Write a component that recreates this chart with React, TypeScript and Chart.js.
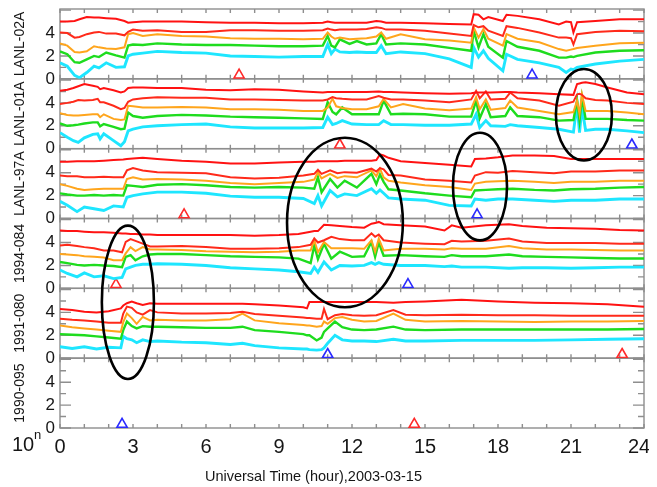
import { useEffect, useRef } from "react";
import { Chart, registerables } from "chart.js";

Chart.register(...registerables);

const FONT = "'Liberation Sans', Arial, Helvetica, sans-serif";

// ---------- labels / ticks ----------
const PANEL_LABELS = ["LANL-02A", "LANL-01A", "LANL-97A", "1994-084", "1991-080", "1990-095"];
const PANEL_IDS = ["y1", "y2", "y3", "y4", "y5", "y6"];
const X_TICKS = [0, 3, 6, 9, 12, 15, 18, 21, 24];
const X_MINOR_TICKS = [0, 1, 2, 3, 4, 5, 6, 7, 8, 9, 10, 11, 12, 13, 14, 15, 16, 17, 18, 19, 20, 21, 22, 23, 24];
const Y_TICKS = [0, 2, 4];
const Y_MINOR_TICKS = [0, 1, 2, 3, 4, 5, 6];
const Y_MAX = 6.1;
const X_TITLE = "Universal Time (hour),2003-03-15";
const EXP_BASE = "10";
const EXP_SUP = "n";

// series order: red (high), red (low), orange, green, cyan
const SERIES_COLORS = ["#ff1212", "#ff2a1a", "#ffa51c", "#1edc1e", "#1ee6ff"];
const SERIES_WIDTHS = [2.0, 2.0, 2.0, 2.4, 2.9];

// ---------- panel 1: LANL-02A ----------
const P1_TIME = [0, 0.3, 0.6, 0.8, 1.1, 1.4, 1.6, 1.9, 2.3, 2.65, 2.8, 3.0, 3.4, 4.0, 5.0, 6.0, 7.0, 8.0, 9.0, 10.0, 10.8, 11.0, 11.15, 11.3, 11.5, 11.9, 12.2, 12.6, 13.0, 13.2, 13.4, 14.0, 15.0, 16.0, 16.9, 17.0, 17.2, 17.4, 17.6, 18.2, 18.35, 18.8, 19.7, 20.5, 20.8, 21.0, 21.1, 21.25, 22.0, 23.0, 24.0];
const P1_RED_HI = [5.0, 5.0, 5.05, 5.2, 5.4, 5.35, 5.35, 5.3, 5.25, 5.05, 4.9, 4.95, 5.0, 5.0, 5.0, 4.95, 4.9, 4.9, 4.85, 4.85, 4.9, 5.0, 4.95, 4.9, 4.9, 4.9, 4.9, 4.9, 5.05, 5.0, 4.9, 4.9, 4.85, 4.8, 4.75, 5.65, 5.6, 5.2, 5.4, 5.05, 5.6, 5.5, 5.2, 4.75, 5.0, 4.95, 4.05, 4.95, 5.05, 5.2, 5.2];
const P1_RED_LO = [4.05, 4.0, 3.6, 3.65, 3.9, 4.05, 4.1, 3.95, 3.95, 3.8, 4.1, 4.3, 4.2, 4.25, 4.1, 4.1, 4.25, 4.25, 4.2, 4.2, 4.25, 4.4, 4.3, 4.25, 4.3, 4.3, 4.3, 4.35, 4.5, 4.45, 4.3, 4.3, 4.2, 3.95, 3.75, 4.7, 4.5, 4.6, 4.2, 3.75, 4.6, 4.45, 4.05, 3.6, 3.6, 3.55, 3.0, 3.9, 4.1, 4.2, 4.15];
const P1_ORANGE = [3.1, 2.9, 2.35, 2.3, 2.4, 2.85, 2.75, 2.65, 2.6, 2.75, 3.9, 4.0, 3.75, 3.9, 3.75, 3.7, 3.55, 3.5, 3.5, 3.45, 3.5, 4.05, 3.7, 3.5, 3.6, 3.45, 3.5, 3.55, 3.7, 4.05, 3.5, 3.9, 3.45, 3.35, 3.15, 4.5, 3.6, 4.35, 3.5, 2.9, 3.9, 3.5, 3.2, 2.6, 2.45, 2.55, 2.6, 2.7, 2.9, 3.1, 3.15];
const P1_GREEN = [2.4, 2.15, 1.45, 1.4, 1.7, 2.0, 1.9, 2.3, 2.05, 1.85, 2.9, 3.0, 2.95, 3.1, 3.0, 2.95, 2.95, 2.9, 2.85, 2.85, 2.9, 3.75, 2.9, 2.75, 3.45, 3.05, 3.3, 3.0, 3.1, 3.9, 3.0, 3.1, 3.0, 2.7, 2.45, 4.2, 2.75, 3.9, 2.8, 1.85, 3.3, 2.8, 2.45, 1.85, 1.85, 1.95, 1.9, 2.0, 2.3, 2.45, 2.5];
const P1_CYAN = [1.4, 1.1, 0.3, 0.1, 0.55, 1.1, 0.95, 1.4, 1.0, 1.05, 2.0, 2.15, 2.25, 2.4, 2.3, 2.25, 2.0, 1.95, 1.9, 1.95, 1.95, 3.0, 2.2, 2.6, 2.35, 2.3, 2.35, 2.3, 2.3, 2.9, 2.2, 2.35, 2.2, 1.75, 1.0, 2.75, 1.9, 2.45, 1.8, 0.7, 2.15, 1.7, 1.4, 1.0, 0.55, 0.85, 0.8, 1.0, 1.3, 1.55, 1.7];

// ---------- panel 2: LANL-01A ----------
const P2_TIME = [0, 0.3, 0.55, 0.75, 1.0, 1.35, 1.55, 1.65, 1.8, 2.2, 2.5, 2.65, 2.8, 3.0, 3.4, 4.0, 5.0, 6.0, 7.0, 8.0, 9.0, 10.0, 10.8, 11.0, 11.2, 11.35, 11.6, 12.0, 12.6, 13.1, 13.3, 13.6, 14.1, 15.0, 16.0, 16.9, 17.1, 17.25, 17.5, 17.7, 18.3, 18.5, 18.8, 19.7, 20.5, 21.1, 21.25, 21.35, 21.45, 21.6, 22.0, 22.5, 23.3, 24.0];
const P2_RED_HI = [5.05, 5.15, 5.3, 5.45, 5.65, 5.5, 5.4, 5.2, 5.3, 5.1, 4.9, 5.0, 5.3, 5.35, 5.35, 5.3, 5.3, 5.15, 5.1, 5.2, 5.15, 5.0, 4.9, 4.95, 4.95, 4.95, 4.95, 4.95, 4.95, 5.0, 4.95, 4.95, 4.9, 4.85, 4.8, 4.85, 4.9, 4.9, 4.9, 4.9, 4.95, 4.95, 4.9, 4.85, 4.75, 4.7, 5.65, 5.7, 5.75, 5.8, 5.65, 5.35, 4.9, 4.75];
const P2_RED_LO = [3.9, 4.0, 4.1, 4.25, 4.2, 4.25, 4.35, 4.05, 4.05, 3.75, 3.45, 3.55, 4.1, 4.3, 4.4, 4.5, 4.45, 4.45, 4.3, 4.3, 4.25, 4.2, 4.2, 4.3, 4.5, 4.4, 4.35, 4.3, 4.3, 4.6, 4.45, 4.3, 4.3, 4.2, 4.05, 4.3, 5.05, 4.4, 5.0, 4.3, 4.35, 4.9, 4.4, 4.2, 3.75, 4.1, 4.75, 4.8, 4.7, 4.4, 4.25, 4.2, 4.0, 3.9];
const P2_ORANGE = [3.1, 2.95, 2.9, 2.9, 2.95, 3.0, 3.0, 2.75, 3.0, 2.6, 2.5, 2.55, 3.75, 3.7, 3.6, 3.6, 3.65, 3.6, 3.45, 3.45, 3.4, 3.3, 3.3, 3.6, 4.35, 3.7, 3.55, 3.45, 3.45, 3.7, 4.35, 3.6, 3.9, 3.5, 3.35, 3.5, 4.5, 3.45, 4.3, 3.4, 3.55, 4.2, 3.6, 3.3, 3.0, 3.2, 4.2, 3.0, 4.75, 3.3, 3.3, 3.3, 3.15, 3.0];
const P2_GREEN = [2.2, 2.0, 2.05, 2.1, 2.2, 2.3, 2.3, 1.95, 2.15, 1.9, 1.7, 1.75, 3.15, 2.85, 2.7, 2.85, 2.95, 2.9, 2.8, 2.75, 2.7, 2.65, 2.6, 4.05, 3.2, 3.0, 3.6, 3.0, 3.0, 3.0, 4.2, 3.0, 3.05, 3.0, 2.8, 2.8, 4.2, 2.65, 3.9, 2.75, 2.85, 3.6, 2.85, 2.75, 2.45, 2.5, 4.2, 2.45, 4.5, 2.6, 2.6, 2.6, 2.5, 2.45];
const P2_CYAN = [1.4, 1.0, 0.7, 0.55, 0.95, 1.25, 1.3, 0.85, 1.3, 0.7, 0.25, 0.6, 1.55, 1.7, 1.9, 2.0, 2.1, 2.15, 1.9, 1.8, 1.8, 1.8, 1.85, 2.75, 2.1, 2.2, 2.45, 2.15, 2.1, 2.1, 2.45, 2.1, 2.1, 2.05, 2.05, 2.15, 3.0, 1.85, 2.45, 2.0, 1.95, 2.1, 2.0, 1.85, 1.7, 1.45, 3.9, 1.4, 3.6, 1.6, 1.7, 1.7, 1.55, 1.4];

// ---------- panel 3: LANL-97A ----------
const P3_TIME = [0, 0.3, 0.7, 1.0, 1.4, 1.8, 2.2, 2.6, 2.75, 3.0, 3.4, 4.0, 5.0, 6.0, 7.0, 8.0, 9.0, 10.0, 10.45, 10.6, 10.75, 11.1, 11.4, 11.7, 12.2, 12.8, 13.0, 13.15, 13.3, 13.5, 14.0, 15.0, 16.0, 16.9, 17.05, 17.5, 18.0, 18.6, 19.5, 20.3, 21.0, 22.0, 23.0, 24.0];
const P3_RED_HI = [4.95, 4.95, 5.0, 5.0, 5.0, 5.05, 5.1, 5.15, 5.2, 5.25, 5.3, 5.2, 5.05, 4.95, 4.8, 4.8, 4.9, 4.95, 4.95, 5.0, 5.0, 5.0, 5.0, 5.05, 5.05, 5.05, 5.1, 5.6, 5.5, 5.3, 5.0, 4.85, 4.7, 4.55, 5.2, 5.25, 5.35, 5.5, 5.5, 5.45, 5.2, 5.2, 5.2, 5.2];
const P3_RED_LO = [3.75, 3.7, 3.7, 3.6, 3.6, 3.65, 3.6, 3.6, 4.2, 4.4, 4.2, 4.05, 4.0, 3.95, 3.6, 3.5, 3.55, 3.75, 3.9, 4.25, 3.9, 4.2, 3.95, 4.05, 4.0, 4.35, 4.1, 4.4, 4.3, 3.8, 3.75, 3.4, 3.3, 3.15, 3.75, 4.05, 4.0, 4.15, 4.05, 3.95, 4.1, 4.1, 4.2, 4.2];
const P3_ORANGE = [3.0, 2.85, 2.6, 2.5, 2.55, 2.6, 2.6, 2.6, 3.45, 3.6, 3.4, 3.45, 3.4, 3.3, 3.1, 3.0, 3.1, 3.2, 3.4, 4.05, 3.5, 3.9, 3.55, 3.7, 3.6, 4.2, 3.7, 4.35, 3.6, 3.3, 3.15, 2.9, 2.75, 2.5, 3.05, 3.2, 3.25, 3.3, 3.2, 3.1, 3.2, 3.2, 3.3, 3.3];
const P3_GREEN = [2.2, 2.1, 2.0, 2.0, 2.05, 2.0, 2.05, 2.0, 2.9, 2.85, 2.75, 2.95, 3.0, 2.9, 2.75, 2.7, 2.75, 2.7, 2.6, 3.6, 2.3, 3.45, 2.7, 3.3, 2.7, 3.9, 3.0, 3.85, 3.2, 2.55, 2.45, 2.2, 2.0, 1.85, 2.45, 2.5, 2.55, 2.6, 2.5, 2.45, 2.55, 2.6, 2.7, 2.75];
const P3_CYAN = [1.5, 1.15, 0.6, 1.0, 0.85, 0.7, 1.1, 1.0, 1.85, 2.0, 2.15, 2.3, 2.3, 2.2, 1.95, 1.85, 1.85, 1.75, 1.3, 2.0, 1.1, 2.45, 1.9, 2.15, 2.0, 2.6, 2.2, 2.5, 2.2, 1.8, 1.7, 1.6, 1.15, 1.1, 1.7, 1.6, 1.7, 1.7, 1.6, 1.5, 1.6, 1.6, 1.7, 1.7];

// ---------- panel 4: 1994-084 ----------
const P4_TIME = [0, 0.3, 0.7, 1.0, 1.4, 1.8, 2.2, 2.55, 2.7, 2.9, 3.1, 3.4, 3.7, 4.0, 5.0, 6.0, 7.0, 8.0, 9.0, 9.8, 10.3, 10.45, 10.6, 10.85, 11.15, 11.5, 12.0, 12.5, 12.8, 12.95, 13.1, 13.3, 14.0, 15.0, 15.8, 16.1, 16.5, 17.5, 18.45, 19.0, 20.0, 21.0, 22.0, 23.0, 24.0];
const P4_RED_HI = [5.05, 5.0, 5.0, 4.95, 4.9, 4.9, 4.85, 4.8, 4.8, 4.75, 4.75, 4.7, 4.7, 4.65, 4.65, 4.65, 4.65, 4.6, 4.65, 4.75, 4.95, 5.0, 5.0, 5.55, 5.5, 5.45, 5.35, 5.3, 5.65, 5.7, 5.8, 5.6, 5.5, 5.4, 5.05, 5.5, 5.3, 5.5, 5.6, 5.45, 5.3, 5.25, 5.2, 5.1, 5.05];
const P4_RED_LO = [3.75, 3.8, 3.7, 3.6, 3.5, 3.3, 3.3, 3.15, 4.05, 4.3, 4.15, 3.9, 3.65, 3.65, 3.7, 3.6, 3.45, 3.45, 3.5, 3.6, 3.8, 4.35, 4.0, 4.2, 4.5, 4.3, 4.2, 4.2, 4.8, 4.5, 4.7, 4.2, 4.0, 3.9, 3.85, 4.15, 4.1, 4.15, 4.35, 4.1, 3.95, 3.95, 3.95, 3.9, 3.9];
const P4_ORANGE = [3.0, 2.95, 2.9, 2.8, 2.75, 2.7, 2.45, 2.45, 3.05, 3.6, 3.25, 3.6, 3.4, 3.4, 3.35, 3.25, 3.2, 3.15, 3.2, 3.3, 3.3, 4.2, 3.15, 4.05, 3.5, 3.5, 3.5, 3.45, 4.2, 3.2, 4.35, 3.3, 3.45, 3.45, 3.4, 3.5, 3.45, 3.45, 3.7, 3.5, 3.4, 3.4, 3.35, 3.3, 3.3];
const P4_GREEN = [2.3, 2.2, 2.05, 2.0, 2.05, 2.0, 1.95, 1.85, 2.75, 2.9, 2.45, 2.8, 2.95, 3.0, 3.0, 2.9, 2.8, 2.75, 2.7, 2.6, 2.2, 3.75, 2.55, 3.9, 2.6, 3.2, 2.75, 2.8, 4.05, 2.75, 4.0, 2.85, 2.9, 2.8, 2.75, 2.9, 2.8, 2.8, 2.95, 2.8, 2.75, 2.7, 2.65, 2.6, 2.6];
const P4_CYAN = [1.6, 1.3, 1.0, 1.35, 1.0, 1.1, 0.85, 0.95, 1.7, 1.85, 2.0, 2.1, 2.1, 2.15, 2.1, 2.0, 1.8, 1.7, 1.6, 1.45, 1.3, 1.85, 1.4, 2.3, 1.6, 2.0, 1.95, 2.0, 2.25, 2.1, 2.25, 2.1, 2.0, 2.0, 1.9, 1.95, 1.85, 1.85, 1.75, 1.8, 1.8, 1.75, 1.8, 1.85, 1.85];

// ---------- panel 5: 1991-080 ----------
const P5_TIME = [0, 0.5, 1.0, 1.5, 2.0, 2.5, 2.6, 2.75, 2.95, 3.15, 3.4, 3.7, 4.0, 5.0, 6.0, 7.0, 7.5, 8.0, 9.0, 10.0, 10.15, 10.25, 10.55, 10.75, 10.85, 11.0, 11.3, 11.6, 12.0, 12.5, 13.0, 13.7, 14.2, 15.0, 16.5, 18.0, 19.5, 21.0, 22.5, 24.0];
const P5_RED_HI = [4.3, 4.2, 4.05, 4.0, 4.1, 4.35, 4.6, 4.8, 4.95, 4.8, 4.65, 4.8, 4.75, 4.75, 4.75, 4.75, 4.75, 4.7, 4.6, 4.45, 4.35, 4.9, 4.9, 4.9, 4.9, 4.9, 4.9, 4.9, 4.9, 4.9, 4.9, 4.85, 4.9, 4.95, 5.1, 4.95, 4.85, 4.8, 4.7, 4.5];
const P5_RED_LO = [3.45, 3.35, 3.3, 3.2, 3.1, 3.1, 3.9, 4.5, 4.4, 4.0, 3.8, 4.2, 4.0, 3.9, 3.9, 3.95, 4.05, 3.85, 3.7, 3.55, 3.5, 3.5, 3.45, 3.45, 4.3, 3.4, 3.75, 3.85, 3.75, 3.7, 3.75, 4.2, 3.8, 3.75, 3.8, 3.75, 3.75, 3.7, 3.7, 3.7];
const P5_ORANGE = [2.85, 2.7, 2.6, 2.5, 2.4, 2.3, 3.15, 3.9, 3.5, 3.0, 3.6, 3.3, 3.35, 3.3, 3.3, 3.4, 3.9, 3.3, 3.05, 2.9, 2.85, 2.85, 2.75, 2.8, 3.2, 3.0, 3.5, 3.6, 3.35, 3.2, 3.25, 3.9, 3.35, 3.2, 3.25, 3.2, 3.15, 3.2, 3.2, 3.25];
const P5_GREEN = [2.1, 2.05, 2.0, 1.9, 1.8, 1.7, 2.45, 3.2, 2.8, 2.6, 2.8, 2.75, 2.75, 2.7, 2.65, 2.65, 2.75, 2.45, 2.3, 2.1, 2.0, 2.0, 1.55, 1.8, 2.3, 2.6, 3.2, 2.7, 2.5, 2.45, 2.5, 2.75, 2.5, 2.45, 2.5, 2.5, 2.5, 2.5, 2.5, 2.55];
const P5_CYAN = [1.0, 0.85, 1.0, 0.8, 0.95, 0.9, 1.9, 1.7, 1.6, 1.35, 1.6, 1.45, 1.5, 1.4, 1.35, 1.2, 1.3, 1.1, 0.9, 0.8, 0.8, 0.75, 0.7, 0.75, 0.9, 1.3, 2.0, 1.6, 1.5, 1.5, 1.45, 1.65, 1.5, 1.5, 1.55, 1.55, 1.55, 1.6, 1.65, 1.7];

// ---------- triangles (one red + one blue per panel) ----------
const RED_TRI_HOURS = [7.36, 11.5, 5.1, 2.3, 23.1, 14.56];
const BLUE_TRI_HOURS = [19.4, 23.5, 17.14, 14.3, 11.0, 2.55];
const TRI_LEVEL = 0.32;

// ---------- hand-drawn ellipses ----------
const ELLIPSE_PANEL = [1, 2, 3, 4];
const ELLIPSE_HOURS = [21.53, 17.26, 11.71, 2.79];
const ELLIPSE_LEVELS = [2.96, 2.79, 5.75, 4.88];
const ELLIPSE_RX_HOURS = [1.15, 1.11, 2.38, 1.07];
const ELLIPSE_RY_LEVELS = [4.0, 4.7, 7.4, 6.7];

const PANEL_TIMES = [P1_TIME, P2_TIME, P3_TIME, P4_TIME, P5_TIME];
const PANEL_SERIES = [
  [P1_RED_HI, P1_RED_LO, P1_ORANGE, P1_GREEN, P1_CYAN],
  [P2_RED_HI, P2_RED_LO, P2_ORANGE, P2_GREEN, P2_CYAN],
  [P3_RED_HI, P3_RED_LO, P3_ORANGE, P3_GREEN, P3_CYAN],
  [P4_RED_HI, P4_RED_LO, P4_ORANGE, P4_GREEN, P4_CYAN],
  [P5_RED_HI, P5_RED_LO, P5_ORANGE, P5_GREEN, P5_CYAN],
];

const FRAME_COLOR = "#8e8e8e";
const TEXT_COLOR = "#161616";

const decorPlugin = {
  id: "decor",
  beforeDatasetsDraw(chart: any) {
    const ctx = chart.ctx;
    const { left, right } = chart.chartArea;
    const xs = chart.scales.x;
    ctx.save();
    ctx.strokeStyle = FRAME_COLOR;
    ctx.lineWidth = 1.4;
    PANEL_IDS.forEach((id) => {
      const s = chart.scales[id];
      ctx.strokeRect(left, s.top, right - left, s.bottom - s.top);
      ctx.beginPath();
      X_MINOR_TICKS.forEach((h) => {
        const px = xs.getPixelForValue(h);
        ctx.moveTo(px, s.bottom);
        ctx.lineTo(px, s.bottom - 4);
        ctx.moveTo(px, s.top);
        ctx.lineTo(px, s.top + 4);
      });
      Y_MINOR_TICKS.forEach((v) => {
        const py = s.getPixelForValue(v);
        const len = v % 2 === 0 ? 11 : 6;
        ctx.moveTo(left, py);
        ctx.lineTo(left + len, py);
        ctx.moveTo(right, py);
        ctx.lineTo(right - len, py);
      });
      ctx.stroke();
    });
    ctx.restore();
  },
  afterDatasetsDraw(chart: any) {
    const ctx = chart.ctx;
    const xs = chart.scales.x;
    ctx.save();
    ctx.strokeStyle = "#000";
    ctx.lineWidth = 2.6;
    ELLIPSE_HOURS.forEach((h, i) => {
      const s = chart.scales[PANEL_IDS[ELLIPSE_PANEL[i]]];
      const cx = xs.getPixelForValue(h);
      const cy = s.getPixelForValue(ELLIPSE_LEVELS[i]);
      const rx = xs.getPixelForValue(h + ELLIPSE_RX_HOURS[i]) - cx;
      const ry = cy - s.getPixelForValue(ELLIPSE_LEVELS[i] + ELLIPSE_RY_LEVELS[i]);
      ctx.beginPath();
      ctx.ellipse(cx, cy, rx, ry, 0, 0, Math.PI * 2);
      ctx.stroke();
    });
    ctx.restore();
  },
  afterDraw(chart: any) {
    const ctx = chart.ctx;
    const { left, right } = chart.chartArea;
    const xs = chart.scales.x;
    ctx.save();
    ctx.fillStyle = TEXT_COLOR;
    ctx.textBaseline = "top";
    ctx.textAlign = "left";
    ctx.font = `20px ${FONT}`;
    ctx.fillText(EXP_BASE, left - 48, xs.top + 7);
    ctx.font = `13px ${FONT}`;
    ctx.fillText(EXP_SUP, left - 26, xs.top + 1);
    ctx.font = `14.5px ${FONT}`;
    ctx.textAlign = "center";
    ctx.textBaseline = "middle";
    ctx.fillText(X_TITLE, left + (right - left) * 0.434, xs.top + 49);
    ctx.restore();
  },
};

export default function App() {
  const ref = useRef<HTMLCanvasElement>(null);

  useEffect(() => {
    const canvas = ref.current;
    if (!canvas) return;

    const datasets: any[] = [];
    PANEL_SERIES.forEach((series, p) => {
      const time = PANEL_TIMES[p];
      series.forEach((vals, k) => {
        datasets.push({
          type: "line",
          data: time.map((t, i) => ({ x: t, y: vals[i] })),
          yAxisID: PANEL_IDS[p],
          borderColor: SERIES_COLORS[k],
          borderWidth: SERIES_WIDTHS[k],
          pointRadius: 0,
          pointHoverRadius: 0,
          tension: 0,
          fill: false,
        });
      });
    });
    PANEL_IDS.forEach((id, p) => {
      datasets.push({
        type: "scatter",
        data: [{ x: RED_TRI_HOURS[p], y: TRI_LEVEL }],
        yAxisID: id,
        pointStyle: "triangle",
        pointRadius: 6,
        pointHoverRadius: 6,
        borderColor: "#ff2a2a",
        backgroundColor: "rgba(0,0,0,0)",
        borderWidth: 1.6,
      });
      datasets.push({
        type: "scatter",
        data: [{ x: BLUE_TRI_HOURS[p], y: TRI_LEVEL }],
        yAxisID: id,
        pointStyle: "triangle",
        pointRadius: 6,
        pointHoverRadius: 6,
        borderColor: "#2a2aff",
        backgroundColor: "rgba(0,0,0,0)",
        borderWidth: 1.6,
      });
    });

    const lastTick = X_TICKS[X_TICKS.length - 1];
    const scales: any = {
      x: {
        type: "linear",
        position: "bottom",
        min: 0,
        max: 24,
        afterBuildTicks: (s: any) => {
          s.ticks = X_TICKS.map((v) => ({ value: v }));
        },
        afterFit: (s: any) => {
          s.height = 59;
          s.paddingLeft = 0;
          s.paddingRight = 0;
        },
        grid: { display: false, drawTicks: false },
        border: { display: false },
        ticks: {
          autoSkip: false,
          maxRotation: 0,
          padding: 7,
          color: TEXT_COLOR,
          font: { family: FONT, size: 20 },
          // the last label sits flush with the right edge, as in the original figure
          callback: (v: any) => (v === lastTick ? `${v}\u2002` : `${v}`),
        },
      },
    };
    for (let p = PANEL_IDS.length - 1; p >= 0; p--) {
      scales[PANEL_IDS[p]] = {
        type: "linear",
        position: "left",
        stack: "panels",
        stackWeight: 1,
        weight: PANEL_IDS.length - p,
        min: 0,
        max: Y_MAX,
        afterBuildTicks: (s: any) => {
          s.ticks = Y_TICKS.map((v) => ({ value: v }));
        },
        afterFit: (s: any) => {
          s.width = 52;
          s.paddingTop = 0;
          s.paddingBottom = 0;
        },
        grid: { display: false, drawTicks: false },
        border: { display: false },
        ticks: {
          autoSkip: false,
          padding: 5,
          color: TEXT_COLOR,
          font: { family: FONT, size: 17 },
        },
        title: {
          display: true,
          text: PANEL_LABELS[p],
          color: TEXT_COLOR,
          font: { family: FONT, size: 14 },
          padding: { top: 4, bottom: 0 },
        },
      };
    }

    const chart = new Chart(canvas, {
      type: "line",
      data: { datasets },
      options: {
        animation: false,
        responsive: false,
        events: [],
        layout: { autoPadding: false, padding: { top: 1, right: 5, left: 0, bottom: 0 } },
        plugins: { legend: { display: false }, tooltip: { enabled: false } },
        scales,
      },
      plugins: [decorPlugin],
    } as any);

    return () => chart.destroy();
  }, []);

  return (
    <div style={{ position: "absolute", left: 8, top: 8, width: 641, height: 479 }}>
      <canvas ref={ref} width={641} height={479} style={{ display: "block" }} />
    </div>
  );
}
